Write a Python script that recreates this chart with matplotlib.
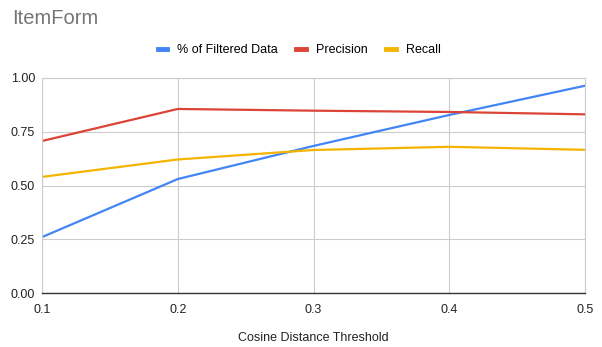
import matplotlib.pyplot as plt

thresholds = [0.1, 0.2, 0.3, 0.4, 0.5]
filtered = [0.26, 0.53, 0.684, 0.828, 0.964]
precision = [0.707, 0.856, 0.848, 0.842, 0.831]
recall = [0.54, 0.621, 0.665, 0.68, 0.666]

series_names = ["% of Filtered Data", "Precision", "Recall"]
colors = ["#4285F4", "#DB4437", "#F4B400"]

plt.rcParams['font.family'] = ['Liberation Sans', 'DejaVu Sans']

W, H = 602, 347
fig = plt.figure(figsize=(W / 100, H / 100), dpi=100)
ax = fig.add_axes([42 / W, 1 - 293 / H, (585 - 42) / W, (293 - 78) / H])

for vals, name, c in zip([filtered, precision, recall], series_names, colors):
    ax.plot(thresholds, vals, color=c, lw=1.6, label=name, solid_capstyle='round')

ax.set_xlim(0.1, 0.5)
ax.set_ylim(0, 1)
ax.set_xticks(thresholds)
ax.set_xticklabels([f"{t:.1f}" for t in thresholds])
ax.set_yticks([0, 0.25, 0.5, 0.75, 1.0])
ax.set_yticklabels([f"{v:.2f}" for v in [0, 0.25, 0.5, 0.75, 1.0]])
ax.grid(True, color="#cccccc", lw=0.8)
ax.set_axisbelow(True)
ax.tick_params(length=0, labelsize=9, colors="#222222")
ax.tick_params(axis='x', pad=8)
ax.tick_params(axis='y', pad=5)
for s in ["top", "right", "left"]:
    ax.spines[s].set_color("#cccccc")
    ax.spines[s].set_linewidth(0.8)
ax.spines["bottom"].set_color("#333333")
ax.spines["bottom"].set_linewidth(1.0)

fig.text(12 / W, 1 - 18 / H, "ItemForm", fontsize=14.5, color="#757575",
         va="center", ha="left")
fig.text(313 / W, 1 - 338 / H, "Cosine Distance Threshold", fontsize=9,
         color="#222222", ha="center", va="center")

handles = [plt.Line2D([0], [0], color=c, lw=3.5) for c in colors]
fig.legend(handles, series_names, loc="center", bbox_to_anchor=(299 / W, 1 - 50 / H),
           ncol=3, frameon=False, fontsize=9, handlelength=0.75,
           columnspacing=1.5, handletextpad=0.8)

fig.savefig("out.png", dpi=100)
